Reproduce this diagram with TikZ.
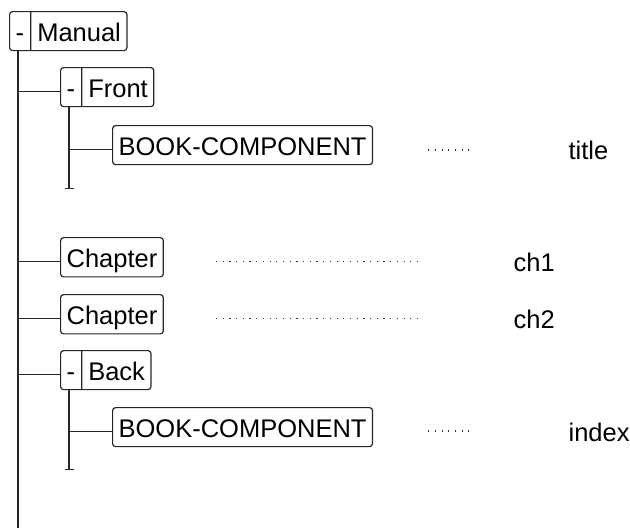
\documentclass[tikz,border=0pt]{standalone}
\usepackage{fontspec}
\setmainfont{Liberation Sans}
\usetikzlibrary{shapes.multipart,calc}
\newcommand\mystrut{\rule[-5pt]{0pt}{30pt}}
\begin{document}
\begin{tikzpicture}[x=1pt,y=-1pt,
  font=\fontsize{25.5}{30}\selectfont, line width=1.2pt,
  box/.style={draw=black!85, rounded corners=3pt, inner xsep=6pt, inner ysep=4.5pt, anchor=north west},
  splitbox/.style={box, rectangle split, rectangle split horizontal, rectangle split parts=2},
  link/.style={draw=black!85},
  leader/.style={draw=black!80, line width=1.3pt, dash pattern=on 1.2pt off 5.5pt},
  lbl/.style={anchor=base west, inner sep=0pt}]
\useasboundingbox (0,0) rectangle (630,528);

% boxes
\node[splitbox] (manual) at (9,11) {\mystrut-\nodepart{two}\mystrut Manual};
\node[splitbox] (front) at (60,67) {\mystrut-\nodepart{two}\mystrut Front};
\node[box] (book1) at (112,125) {\mystrut BOOK-COMPONENT};
\node[box] (chap1) at (60,237) {\mystrut Chapter};
\node[box] (chap2) at (60,294) {\mystrut Chapter};
\node[splitbox] (back) at (60,350) {\mystrut-\nodepart{two}\mystrut Back};
\node[box] (book2) at (112,407) {\mystrut BOOK-COMPONENT};

% trunk lines
\coordinate (tr) at ($(manual.south west)+(9,0)$);
\coordinate (trend) at (tr |- 0,528);
\draw[link] (tr) -- (trend);

\coordinate (fr) at ($(front.south west)+(9,0)$);
\coordinate (frend) at ($(fr)+(0,81)$);
\draw[link] (fr) -- (frend);
\draw[link] ($(frend)+(-4.5,0)$) -- ($(frend)+(4.5,0)$);

\coordinate (br) at ($(back.south west)+(9,0)$);
\coordinate (brend) at ($(br)+(0,79)$);
\draw[link] (br) -- (brend);
\draw[link] ($(brend)+(-4.5,0)$) -- ($(brend)+(4.5,0)$);

% branches
\coordinate (cfront) at ($(front.west)+(0,4)$);
\coordinate (cchap1) at ($(chap1.west)+(0,4)$);
\coordinate (cchap2) at ($(chap2.west)+(0,4)$);
\coordinate (cback) at ($(back.west)+(0,4)$);
\coordinate (cbook1) at ($(book1.west)+(0,4)$);
\coordinate (cbook2) at ($(book2.west)+(0,4)$);
\draw[link] (tr |- cfront) -- (cfront);
\draw[link] (tr |- cchap1) -- (cchap1);
\draw[link] (tr |- cchap2) -- (cchap2);
\draw[link] (tr |- cback) -- (cback);
\draw[link] (fr |- cbook1) -- (cbook1);
\draw[link] (br |- cbook2) -- (cbook2);

% leaders
\coordinate (l1a) at ($(book1.east)+(55,5)$);
\coordinate (l1b) at ($(l1a)+(41,0)$);
\draw[leader] (l1a) -- (l1b);
\coordinate (l2a) at ($(chap1.east)+(52,4)$);
\coordinate (l2b) at ($(l2a)+(203,0)$);
\draw[leader] (l2a) -- (l2b);
\coordinate (l3a) at ($(chap2.east)+(52,4)$);
\coordinate (l3b) at ($(l3a)+(203,0)$);
\draw[leader] (l3a) -- (l3b);
\coordinate (l4a) at ($(book2.east)+(55,4)$);
\coordinate (l4b) at ($(l4a)+(41,0)$);
\draw[leader] (l4a) -- (l4b);

% labels
\node[lbl] (title) at (568,159.5) {title};
\node[lbl] (ch1) at (513,271.5) {ch1};
\node[lbl] (ch2) at (513,328.5) {ch2};
\node[lbl] (index) at (568,441.5) {index};
\end{tikzpicture}
\end{document}
